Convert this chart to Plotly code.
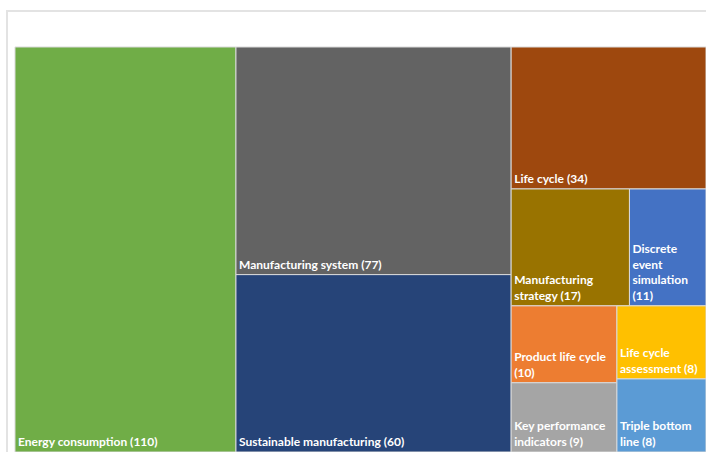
import plotly.graph_objects as go

# Keyword frequencies (number of occurrences)
categories = [
    "Energy consumption",
    "Manufacturing system",
    "Sustainable manufacturing",
    "Life cycle",
    "Manufacturing strategy",
    "Discrete event simulation",
    "Product life cycle",
    "Life cycle assessment",
    "Key performance indicators",
    "Triple bottom line",
]
counts = [110, 77, 60, 34, 17, 11, 10, 8, 9, 8]

# Label text as wrapped inside the narrower tiles
wrapped = [
    "Energy consumption",
    "Manufacturing system",
    "Sustainable manufacturing",
    "Life cycle",
    "Manufacturing<br>strategy",
    "Discrete<br>event<br>simulation",
    "Product life cycle",
    "Life cycle<br>assessment",
    "Key performance<br>indicators",
    "Triple bottom<br>line",
]
value_on_new_line = [False, False, False, False, False, True, True, False, False, False]

colors = [
    "#70AD47", "#636363", "#264478", "#9E480E", "#997300",
    "#4472C4", "#ED7D31", "#FFC000", "#A5A5A5", "#5B9BD5",
]

templates = [
    w + ("<br>" if nl else " ") + "(%{value})"
    for w, nl in zip(wrapped, value_on_new_line)
]

W, H = 706, 452
left, top = 15, 47

fig = go.Figure(
    go.Treemap(
        labels=categories,
        parents=[""] * len(categories),
        values=counts,
        texttemplate=templates,
        textposition="bottom left",
        textfont=dict(family="Lato", size=12, color="white", weight="bold"),
        marker=dict(
            colors=colors,
            line=dict(color="#D9D9D9", width=1),
            pad=dict(t=0, l=0, r=0, b=0),
        ),
        tiling=dict(packing="squarify", squarifyratio=1, pad=0),
        pathbar=dict(visible=False),
        sort=True,
        hoverinfo="label+value",
        domain=dict(x=[left / W, 1], y=[0, 1 - top / H]),
    )
)

# Outer chart frame
fig.add_shape(
    type="rect", xref="paper", yref="paper",
    x0=7 / W, x1=1.05, y0=-0.05, y1=1 - 11 / H,
    line=dict(color="#E3E3E3", width=2), fillcolor="rgba(0,0,0,0)",
    layer="below",
)

fig.update_layout(
    width=W, height=H,
    margin=dict(l=0, r=0, t=0, b=0),
    paper_bgcolor="white",
    font=dict(family="Lato"),
    uniformtext=dict(minsize=12, mode="show"),
)

fig.write_html("out.html")
